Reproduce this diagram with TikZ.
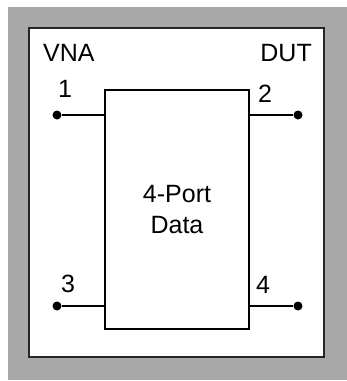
\documentclass[tikz,border=0pt]{standalone}
\usepackage{fontspec}
\setmainfont{Liberation Sans}
\definecolor{bggray}{HTML}{A8A8A8}
\begin{document}
\begin{tikzpicture}[x=1pt,y=-1pt,
  lbl/.style={inner sep=0pt,anchor=base,font=\fontsize{25}{29}\selectfont},
  portdot/.style={circle,fill=black,inner sep=0pt,minimum size=9pt},
  wire/.style={line width=1.4pt}]
\useasboundingbox (0,0) rectangle (347,381);
\fill[white] (0,0) rectangle (347,381);
\fill[bggray] (8,7) rectangle (347,380);
\draw[fill=white,line width=2pt,draw=black!85] (29,28) rectangle (324,357);
\node[draw,wire,minimum width=144pt,minimum height=239pt,inner sep=0pt,
  align=center,font=\fontsize{25}{31}\selectfont] (box) at (177,209.5) {4-Port\\Data};
\node[portdot] (p1) at (57,115) {};
\node[portdot] (p2) at (298,115) {};
\node[portdot] (p3) at (57,306) {};
\node[portdot] (p4) at (298,306) {};
\draw[wire] (p1) -- (p1 -| box.west);
\draw[wire] (p3) -- (p3 -| box.west);
\draw[wire] (p2) -- (p2 -| box.east);
\draw[wire] (p4) -- (p4 -| box.east);
\node[lbl,anchor=base west] (vna) at (43,61) {VNA};
\node[lbl,anchor=base east] (dut) at (312,61) {DUT};
\node[lbl] (l1) at (65,97) {1};
\node[lbl] (l2) at (265,102) {2};
\node[lbl] (l3) at (68,292) {3};
\node[lbl] (l4) at (263,293) {4};
\end{tikzpicture}
\end{document}
